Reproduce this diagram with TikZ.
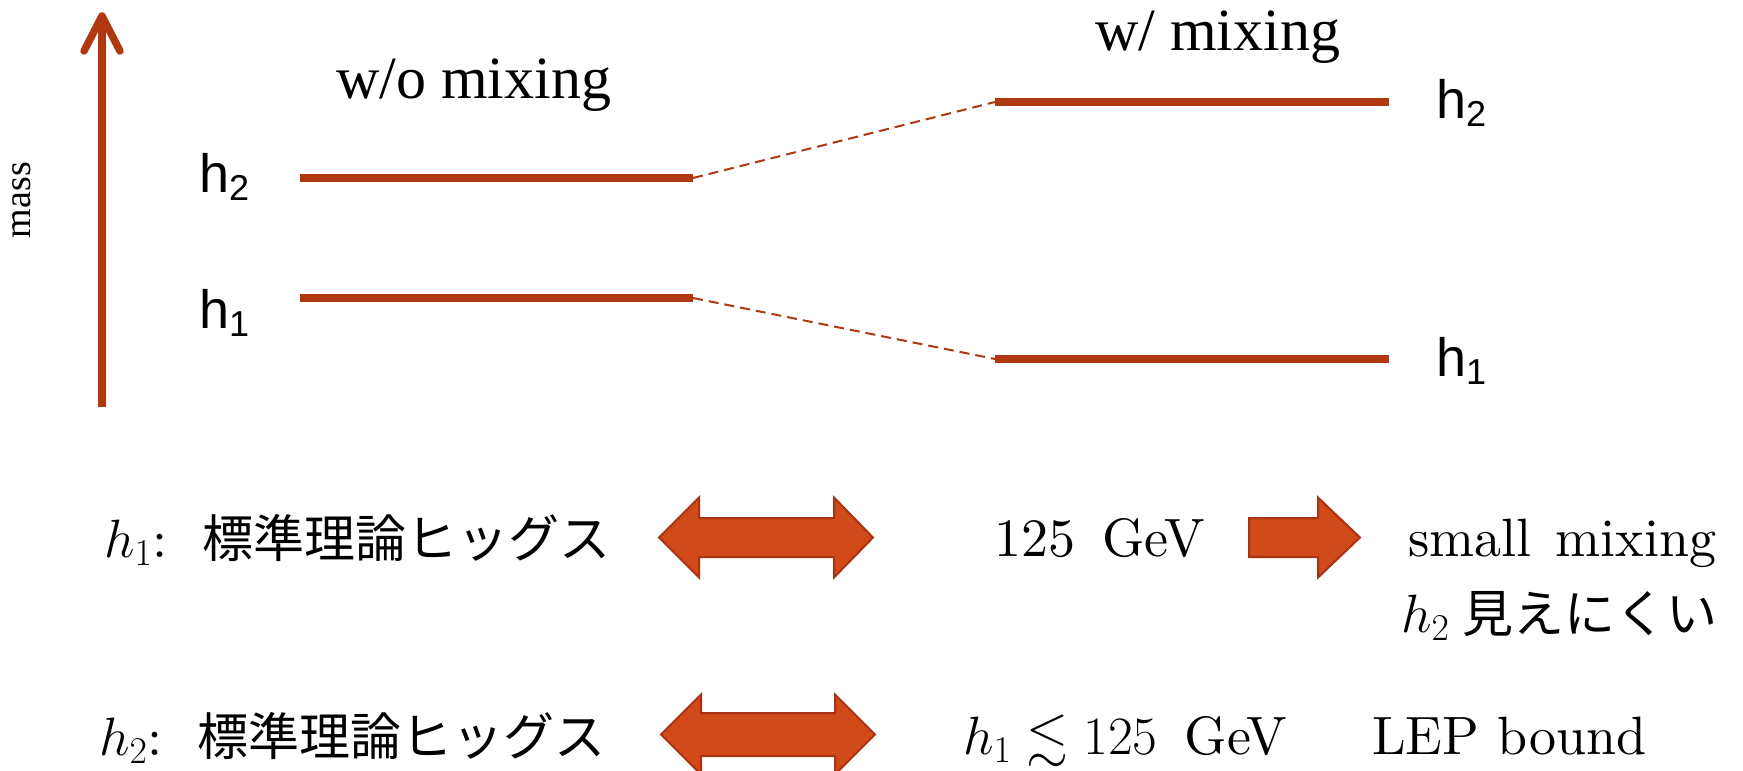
\RequirePackage{fix-cm}
\documentclass[tikz,border=0pt]{standalone}
\usepackage{amssymb}
\usepackage{fontspec}
\newfontfamily\tnr{Liberation Serif}
\newfontfamily\arial{Liberation Sans}
\newfontfamily\cjk{Noto Sans CJK JP}
\newfontfamily\lmten{lmroman10-regular.otf}
\definecolor{rust}{RGB}{176,56,14}
\definecolor{arrowfill}{RGB}{208,74,26}
\definecolor{arrowedge}{RGB}{168,50,18}
\tikzset{
  lvl/.style={draw=rust, line width=8pt},
  mixline/.style={draw=rust, line width=2pt, dash pattern=on 10pt off 6pt},
  blockarrow/.style={fill=arrowfill, draw=arrowedge, line width=2pt, line join=miter},
  masstext/.style={inner sep=0pt, font=\tnr\fontsize{38}{44}\selectfont},
  title/.style={anchor=base west, inner sep=0pt, font=\tnr\fontsize{60}{70}\selectfont},
  hlab/.style={anchor=base west, inner sep=0pt, font=\arial\fontsize{54}{60}\selectfont},
  body/.style={anchor=base west, inner sep=0pt, font=\lmten\fontsize{54}{62}\selectfont},
}
\newcommand{\hsub}[1]{h\raisebox{-8pt}{\fontsize{36}{40}\selectfont #1}}
\newcommand{\jp}[1]{{\cjk\fontsize{51}{60}\selectfont #1}}
\begin{document}
\begin{tikzpicture}[x=1pt,y=-1pt]
\useasboundingbox (0,0) rectangle (1743,771);
% mass axis
\coordinate (axb) at (102,407);
\coordinate (axt) at (102,16);
\coordinate (axl) at (84,51);
\coordinate (axr) at (120,51);
\draw[rust, line width=7.5pt] (axb) -- (axt);
\draw[rust, line width=7.5pt, line cap=round, line join=round] (axl) -- (axt) -- (axr);
\node[masstext, rotate=90] (mass) at (22,200) {mass};
% titles
\node[title] (wo) at (336,98) {w/o mixing};
\node[title] (w) at (1095,50) {w/ mixing};
% levels
\coordinate (l2a) at (300,178); \coordinate (l2b) at (693,178);
\coordinate (l1a) at (300,298); \coordinate (l1b) at (693,298);
\coordinate (r2a) at (995,102); \coordinate (r2b) at (1389,102);
\coordinate (r1a) at (995,359); \coordinate (r1b) at (1389,359);
\draw[lvl] (l2a) -- (l2b);
\draw[lvl] (l1a) -- (l1b);
\draw[lvl] (r2a) -- (r2b);
\draw[lvl] (r1a) -- (r1b);
\draw[mixline] (l2b) -- (r2a);
\draw[mixline] (l1b) -- (r1a);
\node[hlab] (lh2) at (199,192) {\hsub{2}};
\node[hlab] (lh1) at (199,328) {\hsub{1}};
\node[hlab] (rh2) at (1436,118) {\hsub{2}};
\node[hlab] (rh1) at (1436,376) {\hsub{1}};
% bottom rows
\node[body] (row1) at (104,557) {$h_1$:\hspace{0.65em}\jp{標準理論ヒッグス}};
\node[body] (row2) at (99,755) {$h_2$:\hspace{0.65em}\jp{標準理論ヒッグス}};
\node[body] (gev) at (994,556) {125\hspace{0.5em}GeV};
\node[body] (small) at (1408,556) {small\hspace{0.45em}mixing};
\node[body] (mieru) at (1401,632) {$h_2$\hspace{0.25em}\jp{見えにくい}};
\node[body] (bound) at (963,754) {$h_1\lesssim 125$\hspace{0.5em}GeV};
\node[body] (lep) at (1372,754) {LEP bound};
% block arrows
\draw[blockarrow] (659,537.5) -- (699,497.5) -- (699,518) -- (834,518) -- (834,497.5)
  -- (873,537.5) -- (834,577.5) -- (834,557) -- (699,557) -- (699,577.5) -- cycle;
\draw[blockarrow] (661,734.5) -- (701,694.5) -- (701,713) -- (835,713) -- (835,694.5)
  -- (875,734.5) -- (835,774.5) -- (835,756) -- (701,756) -- (701,774.5) -- cycle;
\draw[blockarrow] (1249,518) -- (1318,518) -- (1318,497.5) -- (1360,537.5)
  -- (1318,577.5) -- (1318,557) -- (1249,557) -- cycle;
\end{tikzpicture}
\end{document}
